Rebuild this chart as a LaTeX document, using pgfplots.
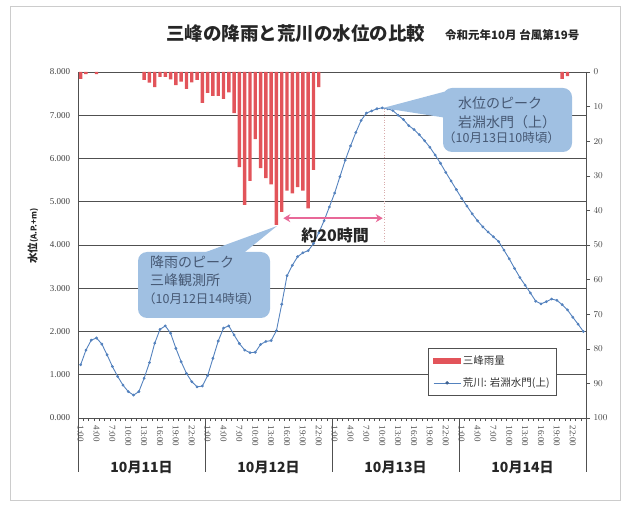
\documentclass[border=0pt]{standalone}
\usepackage{fontspec}
\setmainfont{Liberation Serif}
\newfontfamily\jp{Noto Sans CJK JP}
\usepackage{pgfplots}
\pgfplotsset{compat=1.18}
\usetikzlibrary{arrows.meta}
\definecolor{rain}{RGB}{226,84,90}
\definecolor{wl}{RGB}{84,130,190}
\definecolor{cfill}{RGB}{160,192,226}
\definecolor{ctext}{RGB}{70,88,115}
\definecolor{gridc}{RGB}{80,80,80}
\definecolor{pinka}{RGB}{232,104,152}
\begin{document}
\begin{tikzpicture}[x=1pt,y=1pt]
\useasboundingbox (0,0) rectangle (628,506);
\draw[black!20, line width=0.8pt] (10,6) rectangle (620,500);

\begin{axis}[
  at={(78pt,88pt)}, anchor=south west, scale only axis,
  width=508pt, height=346pt,
  xmin=0, xmax=96, ymin=0, ymax=8,
  clip=false,
  axis line style={gridc, line width=0.8pt},
  ytick={0,1,...,8},
  yticklabels={0.000,1.000,2.000,3.000,4.000,5.000,6.000,7.000,8.000},
  ytick pos=left,
  major y tick style={draw=none},
  ymajorgrids, grid style={gridc, line width=0.9pt},
  yticklabel style={font=\fontsize{9}{9}\selectfont, text=black!75},
  xtick={0.5,3.5,...,93.5},
  xticklabels={1:00,4:00,7:00,10:00,13:00,16:00,19:00,22:00,1:00,4:00,7:00,10:00,13:00,16:00,19:00,22:00,1:00,4:00,7:00,10:00,13:00,16:00,19:00,22:00,1:00,4:00,7:00,10:00,13:00,16:00,19:00,22:00},
  xtick pos=bottom,
  major x tick style={draw=none},
  minor xtick={0,1,...,96},
  minor x tick style={gridc, line width=0.4pt},
  minor tick length=3pt,
  tick align=outside,
  xticklabel style={rotate=-90, anchor=west, font=\fontsize{9}{9}\selectfont, text=black!70},
  legend style={at={(0.689,0.202)}, anchor=north west, draw=gridc, line width=0.6pt, fill=white,
    font=\jp\fontsize{10.5}{10.5}\selectfont, text=black!80, row sep=8pt, inner xsep=5pt, inner ysep=5pt},
  legend cell align=left,
]
\addlegendimage{legend image code/.code={\fill[rain] (0pt,-2.5pt) rectangle (27pt,2.5pt);}}
\addlegendentry{三峰雨量}
\addplot[wl, line width=0.9pt, mark=*, mark size=0.9pt, mark options={fill=wl!75!black, draw=none},
  legend image code/.code={\draw[wl, line width=0.6pt] (0pt,0pt) -- (27pt,0pt); \fill[wl!75!black] (13.5pt,0pt) circle (1.2pt);}]
coordinates {
(0.5,1.23)(1.5,1.57)(2.5,1.80)(3.5,1.85)(4.5,1.71)(5.5,1.46)(6.5,1.19)(7.5,0.96)(8.5,0.76)(9.5,0.61)(10.5,0.53)(11.5,0.61)
(12.5,0.92)(13.5,1.28)(14.5,1.73)(15.5,2.05)(16.5,2.13)(17.5,1.96)(18.5,1.61)(19.5,1.30)(20.5,1.03)(21.5,0.84)(22.5,0.72)(23.5,0.74)
(24.5,0.98)(25.5,1.38)(26.5,1.78)(27.5,2.08)(28.5,2.13)(29.5,1.92)(30.5,1.72)(31.5,1.57)(32.5,1.51)(33.5,1.52)(34.5,1.70)(35.5,1.77)
(36.5,1.79)(37.5,2.02)(38.5,2.63)(39.5,3.29)(40.5,3.53)(41.5,3.73)(42.5,3.82)(43.5,3.87)(44.5,4.03)(45.5,4.28)(46.5,4.56)(47.5,4.88)
(48.5,5.20)(49.5,5.58)(50.5,5.96)(51.5,6.29)(52.5,6.60)(53.5,6.88)(54.5,7.05)(55.5,7.10)(56.5,7.15)(57.5,7.17)(58.5,7.15)(59.5,7.11)
(60.5,7.00)(61.5,6.90)(62.5,6.76)(63.5,6.67)(64.5,6.55)(65.5,6.41)(66.5,6.26)(67.5,6.08)(68.5,5.89)(69.5,5.68)(70.5,5.48)(71.5,5.28)
(72.5,5.08)(73.5,4.90)(74.5,4.72)(75.5,4.56)(76.5,4.42)(77.5,4.30)(78.5,4.19)(79.5,4.08)(80.5,3.88)(81.5,3.68)(82.5,3.46)(83.5,3.25)
(84.5,3.07)(85.5,2.89)(86.5,2.70)(87.5,2.64)(88.5,2.69)(89.5,2.75)(90.5,2.72)(91.5,2.62)(92.5,2.50)(93.5,2.33)(94.5,2.17)(95.5,2.00)
};
\addlegendentry{荒川: 岩淵水門(上)}
\draw[pink!70!gray, dotted, line width=0.7pt] (axis cs:57.8,7.15) -- (axis cs:57.8,4.07);
\draw[pinka, line width=2pt, {Stealth[length=7pt,width=8pt]}-{Stealth[length=7pt,width=8pt]}] (axis cs:38.8,4.62) -- (axis cs:57.6,4.62);
\node[font=\jp\bfseries\fontsize{16}{16}\selectfont, text=black!85] at (axis cs:48.6,4.23) {約20時間};
\end{axis}

\begin{axis}[
  at={(78pt,88pt)}, anchor=south west, scale only axis,
  width=508pt, height=346pt,
  xmin=0, xmax=96, ymin=0, ymax=100, y dir=reverse,
  axis x line=none, axis y line*=right,
  axis line style={gridc, line width=0.8pt},
  ytick={0,10,...,100},
  tick align=outside, major tick length=4pt,
  y tick style={gridc, line width=0.5pt},
  yticklabel style={font=\fontsize{9}{9}\selectfont, text=black!75, anchor=west},
]
\addplot[ybar, bar width=3.4pt, fill=rain, draw=none] coordinates {
(0.5,2.0)(1.5,0.6)(3.5,0.6)
(12.5,2.3)(13.5,3.1)(14.5,4.4)(15.5,1.4)(16.5,1.4)(17.5,2.1)(18.5,3.8)(19.5,2.8)(20.5,4.9)(21.5,3.0)(22.5,2.3)(23.5,8.9)
(24.5,6.0)(25.5,6.9)(26.5,6.9)(27.5,7.8)(28.5,5.9)(29.5,11.9)(30.5,27.5)(31.5,38.4)(32.5,31.5)(33.5,19.4)(34.5,27.8)(35.5,30.7)
(36.5,32.5)(37.5,44.2)(38.5,40.4)(39.5,34.3)(40.5,35.1)(41.5,33.3)(42.5,34.3)(43.5,39.4)(44.5,28.3)(45.5,4.4)
(91.5,2.0)(92.5,1.2)
};
\end{axis}

% day separators and labels
\foreach \xx in {78,205,332,459,586} {\draw[gridc, line width=0.9pt] (\xx,88) -- (\xx,34);}
\node[font=\jp\bfseries\fontsize{14}{14}\selectfont, text=black!85] at (141.5,39) {10月11日};
\node[font=\jp\bfseries\fontsize{14}{14}\selectfont, text=black!85] at (268.5,39) {10月12日};
\node[font=\jp\bfseries\fontsize{14}{14}\selectfont, text=black!85] at (395.5,39) {10月13日};
\node[font=\jp\bfseries\fontsize{14}{14}\selectfont, text=black!85] at (522.5,39) {10月14日};

% callout 1
\fill[cfill] (195,250) -- (240,250) -- (277,280) -- cycle;
\fill[cfill, rounded corners=9pt] (138,188) rectangle (270,254);
\node[anchor=west, font=\jp\fontsize{14}{14}\selectfont, text=ctext, inner sep=0pt] at (150,244) {降雨のピーク};
\node[anchor=west, font=\jp\fontsize{14}{14}\selectfont, text=ctext, inner sep=0pt] at (150,226) {三峰観測所};
\node[anchor=west, font=\jp\fontsize{12.5}{12.5}\selectfont, text=ctext, inner sep=0pt] at (143,207) {（10月12日14時頃）};

% callout 2
\fill[cfill] (383,398) -- (447,415) -- (447,388) -- cycle;
\fill[cfill, rounded corners=9pt] (443,354) rectangle (572,418);
\node[anchor=west, font=\jp\fontsize{14}{14}\selectfont, text=ctext, inner sep=0pt] at (458,403) {水位のピーク};
\node[anchor=west, font=\jp\fontsize{14}{14}\selectfont, text=ctext, inner sep=0pt] at (458,384) {岩淵水門（上）};
\node[anchor=west, font=\jp\fontsize{12.5}{12.5}\selectfont, text=ctext, inner sep=0pt] at (443,368) {（10月13日10時頃）};

% titles
\node[anchor=west, font=\jp\bfseries\fontsize{18.5}{18.5}\selectfont, text=black!85, inner sep=0pt] at (166,472) {三峰の降雨と荒川の水位の比較};
\node[anchor=west, font=\jp\bfseries\fontsize{11.5}{11.5}\selectfont, text=black!85, inner sep=0pt] at (445,471) {令和元年10月 台風第19号};
\node[rotate=90, font=\jp\bfseries\fontsize{10.5}{10.5}\selectfont, text=black!85] at (33,270) {水位{\fontsize{8}{8}\selectfont (A.P.+m)}};
\end{tikzpicture}
\end{document}
